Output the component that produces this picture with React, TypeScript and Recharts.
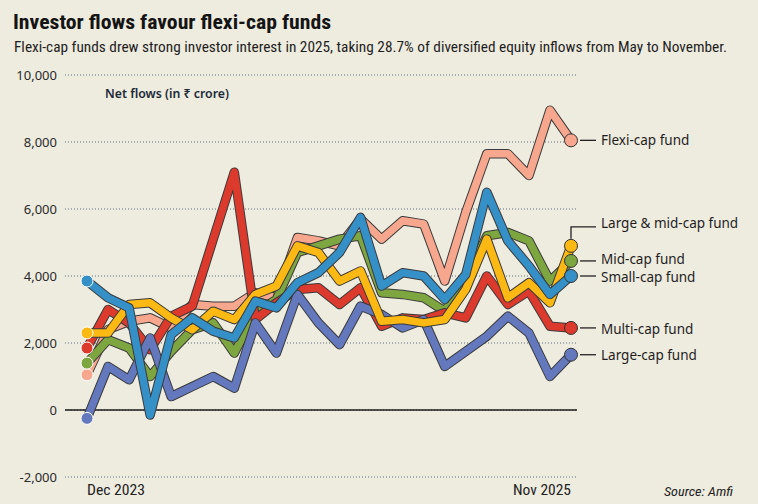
import React from 'react';
import { LineChart, Line, XAxis, YAxis, CartesianGrid, ReferenceLine } from 'recharts';

const months = [
  'Dec 2023', 'Jan 2024', 'Feb 2024', 'Mar 2024', 'Apr 2024', 'May 2024', 'Jun 2024', 'Jul 2024',
  'Aug 2024', 'Sep 2024', 'Oct 2024', 'Nov 2024', 'Dec 2024', 'Jan 2025', 'Feb 2025', 'Mar 2025',
  'Apr 2025', 'May 2025', 'Jun 2025', 'Jul 2025', 'Aug 2025', 'Sep 2025', 'Oct 2025', 'Nov 2025',
];

const flexiCap = [1050, 2400, 2650, 2750, 2450, 3150, 3100, 3100, 3500, 3350, 5150, 5050, 4900, 5700, 5100, 5650, 5550, 3850, 5900, 7650, 7650, 7000, 8950, 8050];
const largeMidCap = [2300, 2300, 3150, 3200, 2750, 2400, 2950, 2700, 3450, 3700, 4900, 4700, 3850, 4150, 2650, 2700, 2600, 2700, 3600, 5100, 3350, 3800, 3200, 4900];
const midCap = [1400, 2100, 1850, 1000, 1750, 2400, 2600, 1700, 2900, 3300, 4700, 4900, 5100, 5200, 3500, 3450, 3350, 2950, 3900, 5200, 5300, 5050, 3850, 4450];
const smallCap = [3850, 3350, 3050, -150, 2250, 2750, 2350, 2150, 3250, 3050, 3800, 4100, 4700, 5750, 3700, 4100, 4000, 3300, 4050, 6500, 5050, 4300, 3450, 4000];
const multiCap = [1850, 3000, 2600, 1800, 2800, 3100, 5100, 7100, 2700, 3200, 3600, 3650, 3150, 3650, 2500, 2750, 2700, 2900, 2750, 4000, 3150, 3550, 2500, 2450];
const largeCap = [-250, 1300, 900, 2150, 400, 700, 1000, 650, 2600, 1700, 3450, 2600, 1950, 3100, 2850, 2450, 2700, 1300, 1750, 2200, 2800, 2300, 1000, 1650];

const yTicks = [-2000, 0, 2000, 4000, 6000, 8000, 10000];
const xTickLabels = ['Dec 2023', 'Nov 2025'];

const data = months.map((m, i) => ({
  i,
  month: m,
  flexi: flexiCap[i],
  largeMid: largeMidCap[i],
  mid: midCap[i],
  small: smallCap[i],
  multi: multiCap[i],
  large: largeCap[i],
}));

type S = { key: string; name: string; color: string; dy: number; elbow?: boolean };

// drawing order: bottom to top
const series: S[] = [
  { key: 'flexi', name: 'Flexi-cap fund', color: '#F7A78E', dy: 0 },
  { key: 'mid', name: 'Mid-cap fund', color: '#7DA540', dy: -1.5 },
  { key: 'multi', name: 'Multi-cap fund', color: '#DC3A2D', dy: 1 },
  { key: 'large', name: 'Large-cap fund', color: '#6378BD', dy: 0.5 },
  { key: 'largeMid', name: 'Large & mid-cap fund', color: '#FCB813', dy: 0, elbow: true },
  { key: 'small', name: 'Small-cap fund', color: '#3590C8', dy: 0.5 },
];

const LAST = months.length - 1;
const LABEL_FONT = '"Noto Sans", "Open Sans", sans-serif';

const makeDot = (s: S) => (p: any) => {
  const { cx, cy, index } = p;
  if (index === 0) {
    return <circle key={`d-${s.key}-${index}`} cx={cx} cy={cy} r={6} fill={s.color} stroke="#ffffff" strokeWidth={1} />;
  }
  if (index === LAST) {
    return <circle key={`d-${s.key}-${index}`} cx={cx} cy={cy} r={6.5} fill={s.color} stroke="#333" strokeWidth={1} />;
  }
  return <g key={`d-${s.key}-${index}`} />;
};

const makeLabel = (s: S) => (p: any) => {
  const { x, y, index } = p;
  if (index !== LAST) return null;
  if (s.elbow) {
    const ly = y - 19;
    return (
      <g key={`l-${s.key}`}>
        <polyline points={`${x},${y - 7} ${x},${ly} ${x + 25},${ly}`} fill="none" stroke="#222" strokeWidth={1.3} />
        <text x={x + 30} y={ly - 4} dominantBaseline="central" fontFamily={LABEL_FONT} fontSize={13.5} fill="#1e1e1e">
          {s.name}
        </text>
      </g>
    );
  }
  return (
    <g key={`l-${s.key}`}>
      <line x1={x + 9} x2={x + 25} y1={y} y2={y} stroke="#222" strokeWidth={1.3} />
      <text x={x + 30} y={y + s.dy} dominantBaseline="central" fontFamily={LABEL_FONT} fontSize={13.5} fill="#1e1e1e">
        {s.name}
      </text>
    </g>
  );
};

const XTick = (p: any) => {
  const { x, y, payload } = p;
  const first = payload.value === 0;
  return (
    <text
      x={x}
      y={y}
      dy="0.71em"
      textAnchor={first ? 'start' : 'end'}
      fontFamily='"Liberation Sans Narrow", "Roboto Condensed", Roboto, sans-serif'
      fontSize={14}
      fill="#222"
      textLength={58}
      lengthAdjust="spacingAndGlyphs"
    >
      {first ? xTickLabels[0] : xTickLabels[1]}
    </text>
  );
};

const fmt = (v: number) => v.toLocaleString('en-US');

export default function App() {
  return (
    <div style={{ position: 'absolute', left: 0, top: 0, width: 758, height: 504, background: '#EEEBDF', overflow: 'hidden' }}>
      <LineChart width={758} height={504} data={data} margin={{ top: 75, right: 181, bottom: 0, left: 0 }}>
        <CartesianGrid horizontal vertical={false} stroke="#5d6f7c" strokeDasharray="1 2" />
        <XAxis
          dataKey="i"
          type="number"
          domain={[0, LAST]}
          ticks={[0, LAST]}
          padding={{ left: 22, right: 6 }}
          axisLine={false}
          tickLine={false}
          height={27}
          tick={<XTick />}
          interval={0}
        />
        <YAxis
          domain={[-2000, 10000]}
          ticks={yTicks}
          width={65}
          axisLine={false}
          tickLine={false}
          tickFormatter={fmt}
          tick={{ fontFamily: '"Noto Sans", "Open Sans", sans-serif', fontSize: 13, fill: '#2a2a2a' }}
          interval={0}
        />
        <ReferenceLine y={0} stroke="#1d1d1d" strokeWidth={1.5} />
        {series.flatMap((s) => [
          <Line
            key={`o-${s.key}`}
            dataKey={s.key}
            type="linear"
            stroke="#3b3b3b"
            strokeWidth={9.5}
            strokeLinejoin="round"
            strokeLinecap="round"
            dot={false}
            activeDot={false}
            isAnimationActive={false}
            legendType="none"
          />,
          <Line
            key={`c-${s.key}`}
            dataKey={s.key}
            name={s.name}
            type="linear"
            stroke={s.color}
            strokeWidth={7.5}
            strokeLinejoin="round"
            strokeLinecap="round"
            dot={makeDot(s)}
            activeDot={false}
            label={makeLabel(s)}
            isAnimationActive={false}
          />,
        ])}
      </LineChart>
      <svg width={758} height={504} style={{ position: 'absolute', left: 0, top: 0, pointerEvents: 'none' }}>
        <text
          x={13}
          y={29}
          fontFamily='"Liberation Sans Narrow", "Roboto Condensed", Roboto, sans-serif'
          fontWeight={700}
          fontSize={20}
          fill="#141414"
          textLength={318}
          lengthAdjust="spacingAndGlyphs"
        >
          Investor flows favour flexi-cap funds
        </text>
        <text
          x={14}
          y={52}
          fontFamily='"Liberation Sans Narrow", "Roboto Condensed", Roboto, sans-serif'
          fontSize={14}
          fill="#1e1e1e"
          textLength={713}
          lengthAdjust="spacingAndGlyphs"
        >
          Flexi-cap funds drew strong investor interest in 2025, taking 28.7% of diversified equity inflows from May to November.
        </text>
        <text
          x={105}
          y={98}
          fontFamily='"Noto Sans", "Open Sans", sans-serif'
          fontWeight={600}
          fontSize={13}
          fill="#1c2a38"
          textLength={124}
          lengthAdjust="spacingAndGlyphs"
        >
          Net flows (in ₹ crore)
        </text>
        <text
          x={664}
          y={496}
          fontFamily='"Liberation Sans Narrow", "Roboto Condensed", Roboto, sans-serif'
          fontStyle="italic"
          fontSize={13}
          fill="#222"
          textLength={69}
          lengthAdjust="spacingAndGlyphs"
        >
          Source: Amfi
        </text>
      </svg>
    </div>
  );
}
